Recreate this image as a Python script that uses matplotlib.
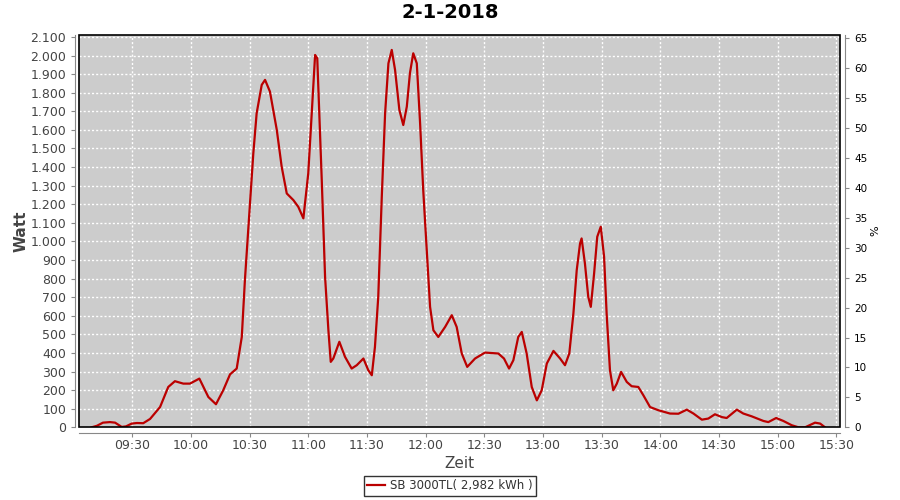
import matplotlib
matplotlib.use("Agg")
import matplotlib.pyplot as plt
from matplotlib.ticker import FixedLocator, FuncFormatter, MultipleLocator
from matplotlib.patches import Rectangle

# minutes after 09:00
t_min = [9.2, 11.9, 15.0, 18.6, 21.2, 24.6, 26.8, 29.7, 32.4, 35.6, 39.1, 44.2, 48.4, 51.8,
         56.1, 59.5, 64.3, 68.9, 72.8, 76.5, 80.0, 83.4, 86.0, 87.6, 90.2, 91.9, 93.6, 96.2,
         97.9, 100.4, 103.9, 106.4, 109.0, 112.4, 114.9, 117.5, 120.0, 121.8, 123.5, 124.6,
         126.9, 128.6, 130.3, 131.5, 132.8, 135.9, 138.8, 142.2, 144.8, 148.2, 150.7, 152.5,
         154.1, 155.8, 157.6, 159.3, 161.0, 162.7, 164.4, 166.6, 168.6, 170.4, 172.0, 173.7,
         175.5, 177.2, 178.8, 180.6, 182.3, 184.0, 186.5, 190.0, 193.4, 195.9, 198.5, 201.3,
         205.3, 210.4, 217.2, 220.1, 222.7, 224.9, 227.4, 229.2, 231.7, 234.3, 236.9, 239.4,
         242.0, 245.4, 248.8, 251.3, 253.5, 255.6, 257.3, 259.0, 259.8, 261.5, 263.2, 264.5,
         266.2, 267.8, 269.6, 271.3, 272.6, 274.3, 276.0, 277.8, 280.0, 282.9, 285.4, 288.8,
         291.4, 294.8, 299.0, 305.0, 309.3, 313.6, 317.0, 321.3, 324.6, 328.0, 331.5, 334.0,
         339.2, 342.5, 346.8, 352.8, 355.3, 359.3, 363.0, 367.3, 370.7, 374.1, 379.2, 381.8,
         384.3]
watt = [0, 8, 25, 28, 25, 2, 5, 20, 23, 22, 45, 109, 217, 248,
        235, 235, 262, 163, 124, 199, 285, 316, 486, 792, 1206, 1474, 1689, 1842,
        1869, 1806, 1600, 1402, 1258, 1222, 1186, 1124, 1366, 1689, 2003, 1985,
        1330, 809, 522, 352, 370, 460, 379, 316, 334, 370, 307, 280,
        432, 702, 1240, 1689, 1958, 2030, 1922, 1707, 1626, 1725, 1905, 2012,
        1958, 1635, 1276, 953, 648, 522, 486, 540, 603, 540, 397, 325,
        370, 402, 397, 370, 316, 361, 486, 513, 397, 217, 145, 199,
        343, 411, 370, 334, 397, 612, 845, 989, 1016, 881, 702, 648,
        828, 1025, 1079, 917, 612, 307, 199, 235, 298, 244, 221, 217,
        172, 109, 92, 74, 73, 95, 74, 41, 47, 70, 55, 50,
        95, 74, 59, 34, 28, 50, 34, 11, 0, 0, 25, 20,
        0]

tick_min = [30, 60, 90, 120, 150, 180, 210, 240, 270, 300, 330, 360, 390]
tick_labels = ["09:30", "10:00", "10:30", "11:00", "11:30", "12:00", "12:30",
               "13:00", "13:30", "14:00", "14:30", "15:00", "15:30"]
title = "2-1-2018"
series_label = "SB 3000TL( 2,982 kWh )"

plt.rcParams['font.family'] = ['DejaVu Sans']
fig = plt.figure(figsize=(9, 5), dpi=100)
fig.patch.set_facecolor('white')
L, R, B, T = 79.3 / 900, 839.7 / 900, 1 - 427.3 / 500, 1 - 34.7 / 500
ax = fig.add_axes([L, B, R - L, T - B])
ax.set_facecolor('#CCCCCC')

line, = ax.plot(t_min, watt, color='#BB0000', lw=1.6, label=series_label, zorder=3)

ax.set_xlim(2.9, 391.8)
ax.set_ylim(0, 2112)
ax.xaxis.set_major_locator(FixedLocator(tick_min))
ax.set_xticklabels(tick_labels)
ax.yaxis.set_major_locator(MultipleLocator(100))
ax.yaxis.set_major_formatter(FuncFormatter(lambda v, p: f"{int(round(v)):,}".replace(",", ".")))

ax.grid(True, color='white', linestyle=(0, (1.5, 1.5)), linewidth=1.0)
ax.set_axisbelow(True)

grey = '#888888'
for s in ['top', 'right']:
    ax.spines[s].set_visible(False)
ax.spines['left'].set_position(('outward', 3))
ax.spines['bottom'].set_position(('outward', 4))
ax.spines['left'].set_color(grey)
ax.spines['bottom'].set_color(grey)
ax.tick_params(axis='both', colors=grey, labelcolor='#444444', labelsize=9, length=3, direction='out')
ax.tick_params(axis='x', pad=1.5)
ax.add_patch(Rectangle((0, 0), 1, 1, transform=ax.transAxes, fill=False,
                       edgecolor='black', lw=1.2, zorder=5, clip_on=False))

ax.set_ylabel("Watt", fontsize=11, color='#444444', fontweight='bold', labelpad=1)
ax.set_xlabel("Zeit", fontsize=11, color='#444444', labelpad=3)

ax2 = ax.twinx()
ax2.set_ylim(0, 65.6)
ax2.yaxis.set_major_locator(MultipleLocator(5))
for s in ['top', 'left', 'bottom']:
    ax2.spines[s].set_visible(False)
ax2.spines['right'].set_position(('outward', 4))
ax2.spines['right'].set_color(grey)
ax2.tick_params(axis='y', colors=grey, labelcolor='black', labelsize=7.5, length=3, direction='out')
ax2.set_ylabel("%", fontsize=8, color='black', labelpad=2)

fig.suptitle(title, x=0.5, y=0.993, fontsize=14, fontweight='bold', va='top')

leg = fig.legend(handles=[line], loc='lower center', bbox_to_anchor=(0.5, 0.004),
                 fontsize=8.5, frameon=True, fancybox=False, edgecolor='black',
                 handlelength=1.5, handletextpad=0.4, borderpad=0.3, borderaxespad=0.2)
leg.get_frame().set_linewidth(1.0)
for txt in leg.get_texts():
    txt.set_color('#333333')

fig.savefig("out.png", dpi=100)
